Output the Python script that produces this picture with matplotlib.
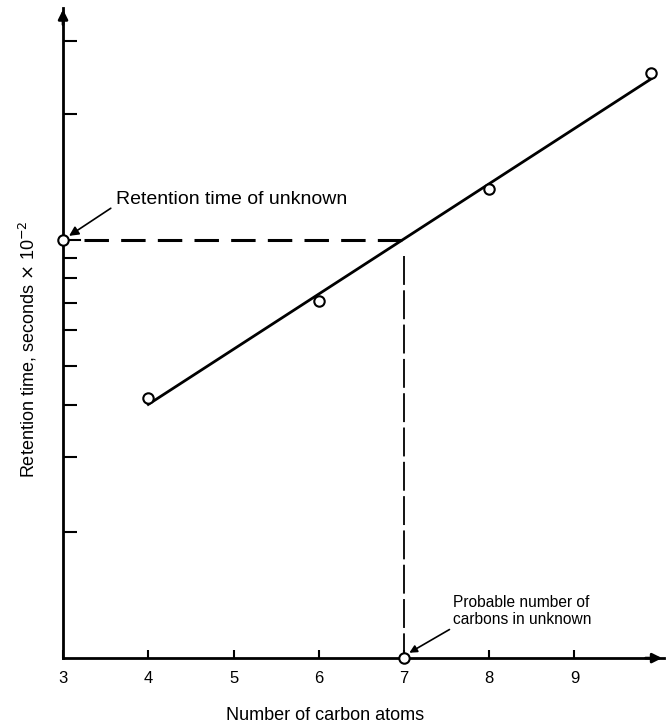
import numpy as np
import matplotlib
matplotlib.use("Agg")
import matplotlib.pyplot as plt

plt.rcParams['font.family'] = ['Liberation Sans', 'DejaVu Sans']

# valeurs (axe y en unites arbitraires, sans etiquettes)
carbons = [4, 6, 8, 9.9]
retention = [4.0, 5.49, 7.22, 9.0]
unknown_carbons = 7
unknown_retention = 6.43
x_ticks = [3, 4, 5, 6, 7, 8, 9]
x_ticklabels = ["3", "4", "5", "6", "7", "8", "9"]
y_ticks = [1.94, 3.09, 3.89, 4.49, 5.05, 5.46, 5.85, 6.15, 8.37, 9.49]

fig = plt.figure(figsize=(6.67, 7.28), dpi=100)
ax = fig.add_axes([0.0945, 0.096, 0.901, 0.893])
ax.set_xlim(3, 10.05)
ax.set_ylim(0, 10)

for s in ["top", "right"]:
    ax.spines[s].set_visible(False)
ax.spines["left"].set_linewidth(2)
ax.spines["bottom"].set_linewidth(2)

# fleches au bout des axes
ax.annotate("", xy=(10.06, 0), xytext=(9.8, 0),
            arrowprops=dict(arrowstyle="-|>", color="k", lw=2, mutation_scale=14),
            annotation_clip=False)
ax.annotate("", xy=(3, 10.02), xytext=(3, 9.7),
            arrowprops=dict(arrowstyle="-|>", color="k", lw=2, mutation_scale=14),
            annotation_clip=False)

ax.set_xticks(x_ticks)
ax.set_xticklabels(x_ticklabels)
ax.tick_params(axis="x", direction="in", length=6, width=1.5, labelsize=12, pad=9)
ax.set_yticks(y_ticks)
ax.set_yticklabels([])
ax.tick_params(axis="y", direction="in", length=10, width=1.5)

# droite de regression
a, b = np.polyfit(carbons, retention, 1)
xs = np.array([carbons[0], carbons[-1]])
ax.plot(xs, a * xs + b, color="k", lw=2)
ax.plot(carbons, retention, "o", mfc="white", mec="k", ms=7.5, mew=1.5, zorder=5)

# lecture de l'inconnu
ax.plot([3, 3.2], [unknown_retention] * 2, color="k", lw=1.5)
ax.plot([3.25, unknown_carbons], [unknown_retention] * 2, color="k", lw=2.2,
        dashes=(8, 4))
ax.plot([unknown_carbons] * 2, [unknown_retention - 0.25, 0], color="k", lw=1.3,
        dashes=(16, 3))
ax.plot([3, unknown_carbons], [unknown_retention, 0], "o", mfc="white", mec="k",
        ms=7.5, mew=1.5, zorder=6, clip_on=False)

ax.annotate("Retention time of unknown", xy=(3.03, unknown_retention + 0.03),
            xytext=(3.62, 7.05), fontsize=14, va="center", ha="left",
            arrowprops=dict(arrowstyle="-|>", color="k", lw=1.2,
                            relpos=(0, 0.2), shrinkA=2, shrinkB=3))
ax.annotate("Probable number of\ncarbons in unknown",
            xy=(unknown_carbons + 0.02, 0.05), xytext=(7.58, 0.72),
            fontsize=11.2, va="center", ha="left", linespacing=1.15,
            arrowprops=dict(arrowstyle="-|>", color="k", lw=1.2,
                            relpos=(0, 0.0), shrinkA=1, shrinkB=3))

ax.set_xlabel("Number of carbon atoms", fontsize=13)
ax.xaxis.set_label_coords((325 - 63) / 601, -49 / 650)
ax.set_ylabel("Retention time, seconds $\\times$ 10$^{-2}$", fontsize=13)
ax.yaxis.set_label_coords(-24 / 601, (658 - 349) / 650)

fig.savefig("out.png", dpi=100)
